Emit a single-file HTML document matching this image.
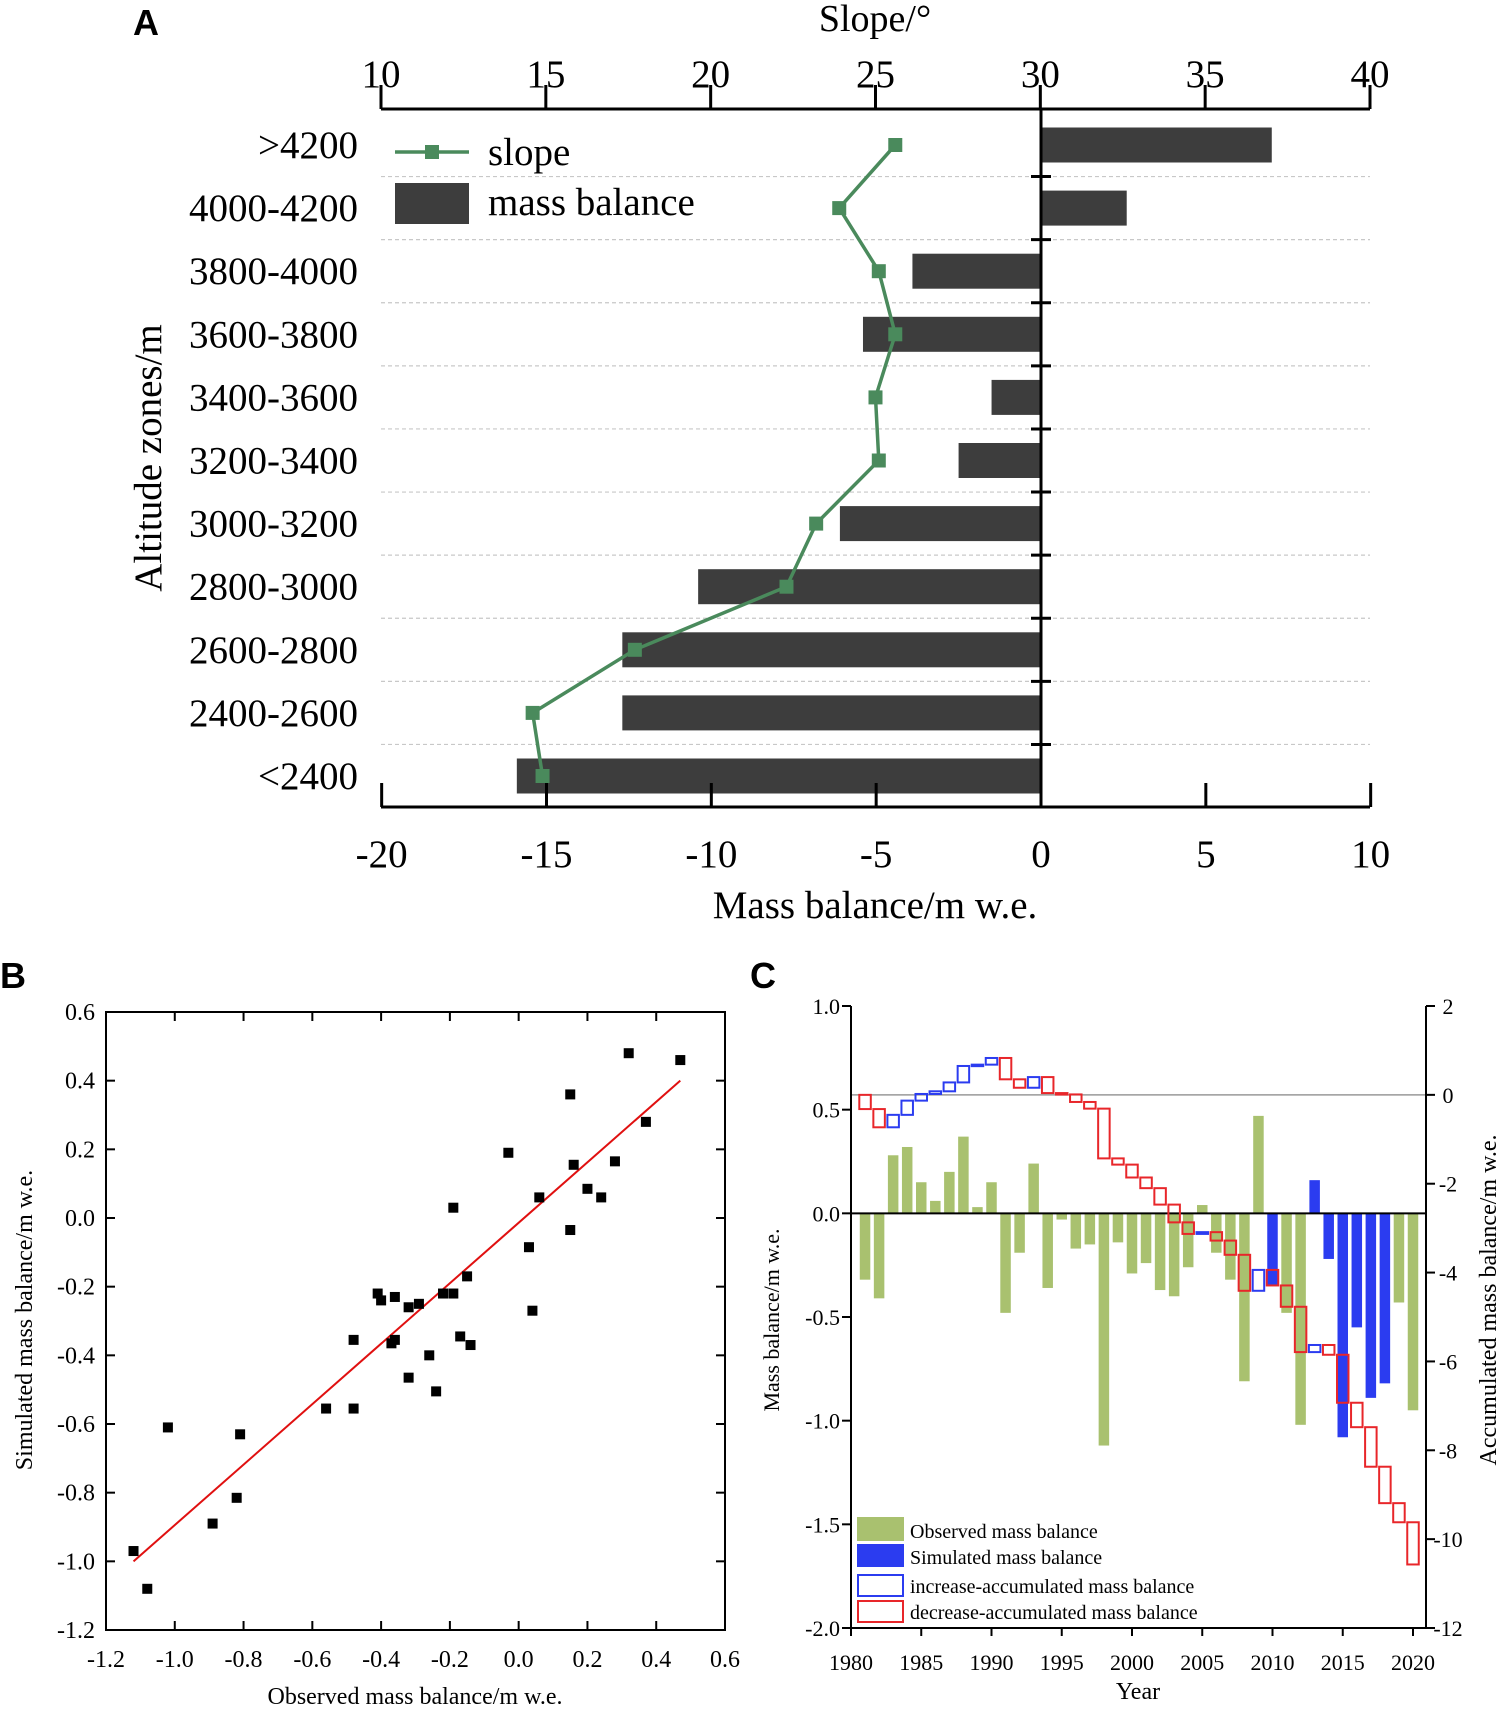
<!DOCTYPE html>
<html><head><meta charset="utf-8"><style>
html,body{margin:0;padding:0;background:#fff;}
svg{display:block;font-family:"Liberation Serif",serif;}
.sans{font-family:"Liberation Sans",sans-serif;font-weight:bold;}
</style></head><body>
<svg id="fig" width="1500" height="1709" viewBox="0 0 1500 1709" xmlns="http://www.w3.org/2000/svg">
<g id="pA"></g>
<g id="pB"></g>
<g id="pC"></g>
</svg>
<script>
// ---------- Panel A data ----------
const zonesA = [">4200","4000-4200","3800-4000","3600-3800","3400-3600","3200-3400","3000-3200","2800-3000","2600-2800","2400-2600","<2400"];
const massBalanceA = [7.0,2.6,-3.9,-5.4,-1.5,-2.5,-6.1,-10.4,-12.7,-12.7,-15.9];
const slopeA = [25.6,23.9,25.1,25.6,25.0,25.1,23.2,22.3,17.7,14.6,14.9];
const slopeTicks = [10,15,20,25,30,35,40];
const mbTicks = [-20,-15,-10,-5,0,5,10];
// ---------- Panel B data ----------
const obsB = [-1.12,-1.08,-1.02,-0.89,-0.82,-0.81,-0.56,-0.48,-0.48,-0.41,-0.40,-0.37,-0.36,-0.36,-0.32,-0.32,-0.29,-0.26,-0.24,-0.22,-0.19,-0.19,-0.17,-0.15,-0.14,-0.03,0.03,0.04,0.06,0.15,0.15,0.16,0.20,0.24,0.28,0.32,0.37,0.47];
const simB = [-0.97,-1.08,-0.61,-0.89,-0.815,-0.63,-0.555,-0.355,-0.555,-0.22,-0.24,-0.365,-0.355,-0.23,-0.26,-0.465,-0.25,-0.40,-0.505,-0.22,-0.22,0.03,-0.345,-0.17,-0.37,0.19,-0.085,-0.27,0.06,0.36,-0.035,0.155,0.085,0.06,0.165,0.48,0.28,0.46];
const fitB = [[-1.12,-1.0],[0.47,0.40]];
const ticksB = [-1.2,-1.0,-0.8,-0.6,-0.4,-0.2,0.0,0.2,0.4,0.6];
// ---------- Panel C data ----------
const yearsC = [1981,1982,1983,1984,1985,1986,1987,1988,1989,1990,1991,1992,1993,1994,1995,1996,1997,1998,1999,2000,2001,2002,2003,2004,2005,2006,2007,2008,2009,2010,2011,2012,2013,2014,2015,2016,2017,2018,2019,2020];
const observedC = [-0.32,-0.41,0.28,0.32,0.15,0.06,0.20,0.37,0.03,0.15,-0.48,-0.19,0.24,-0.36,-0.03,-0.17,-0.15,-1.12,-0.14,-0.29,-0.24,-0.37,-0.40,-0.26,0.04,-0.19,-0.32,-0.81,0.47,null,-0.48,-1.02,null,null,null,null,null,null,-0.43,-0.95];
const simulatedC = [null,null,null,null,null,null,null,null,null,null,null,null,null,null,null,null,null,null,null,null,null,null,null,null,null,null,null,null,null,-0.35,null,null,0.16,-0.22,-1.08,-0.55,-0.89,-0.82,null,null];
const leftTicksC = [1.0,0.5,0.0,-0.5,-1.0,-1.5,-2.0];
const rightTicksC = [2,0,-2,-4,-6,-8,-10,-12];
const yearTicksC = [1980,1985,1990,1995,2000,2005,2010,2015,2020];

const NS="http://www.w3.org/2000/svg";
function mk(parent,tag,attrs,text){const e=document.createElementNS(NS,tag);for(const k in attrs)e.setAttribute(k,attrs[k]);if(text!==undefined)e.textContent=text;parent.appendChild(e);return e;}

// ================= PANEL A =================
(function(){
const g=document.getElementById('pA');
const L=381,R=1370,T=109,B=807,Z=1041;
const mx=v=>Z+v*(R-L)/30;
const sx=s=>L+(s-10)*(R-L)/30;
const rowY=i=>145+i*63.1;
let t=mk(g,'text',{x:133,y:35,'font-size':36,class:'sans'},'A');


t=mk(g,'text',{x:875,y:31,'font-size':38,'text-anchor':'middle'},'Slope/°');


for(let i=0;i<zonesA.length-1;i++){
  const y=(rowY(i)+rowY(i+1))/2;
  const l=mk(g,'line',{x1:L,x2:R,y1:y,y2:y,stroke:'#c8c8c8','stroke-width':1.2,'stroke-dasharray':'4,3'});
  
  
  const tk=mk(g,'line',{x1:Z-10,x2:Z+10,y1:y,y2:y,stroke:'#000','stroke-width':3});
  
  
}
massBalanceA.forEach((v,i)=>{
  const x0=Math.min(mx(0),mx(v)),w=Math.abs(mx(v)-mx(0));
  const r=mk(g,'rect',{x:x0,y:rowY(i)-17.5,width:w,height:35,fill:'#3d3d3d'});
  
  
});
let a=mk(g,'line',{x1:L,x2:R,y1:T,y2:T,stroke:'#000','stroke-width':3});


slopeTicks.forEach(s=>{
  const x=sx(s);
  mk(g,'line',{x1:x,x2:x,y1:T,y2:T-24,stroke:'#000','stroke-width':3});
  const tl=mk(g,'text',{x:x,y:87,'font-size':39,'text-anchor':'middle'},String(s));
  
  
});
a=mk(g,'line',{x1:L,x2:R,y1:B,y2:B,stroke:'#000','stroke-width':3});


mbTicks.forEach(v=>{
  const x=mx(v);
  mk(g,'line',{x1:x,x2:x,y1:B,y2:B-24,stroke:'#000','stroke-width':3});
  const tl=mk(g,'text',{x:x,y:867,'font-size':39,'text-anchor':'middle'},String(v));
  
  
});
t=mk(g,'text',{x:875,y:918,'font-size':39,'text-anchor':'middle'},'Mass balance/m w.e.');


a=mk(g,'line',{x1:Z,x2:Z,y1:T,y2:B,stroke:'#000','stroke-width':3});


zonesA.forEach((z,i)=>{
  const tl=mk(g,'text',{x:358,y:rowY(i)+13,'font-size':39,'text-anchor':'end'},z);
  
  
});
t=mk(g,'text',{x:0,y:0,'font-size':39,'text-anchor':'middle',transform:'translate(161,458) rotate(-90)'},'Altitude zones/m');


const pts=slopeA.map((s,i)=>sx(s)+','+rowY(i)).join(' ');
const pl=mk(g,'polyline',{points:pts,fill:'none',stroke:'#4a8a5c','stroke-width':3.5});


slopeA.forEach((s,i)=>{
  const m=mk(g,'rect',{x:sx(s)-7,y:rowY(i)-7,width:14,height:14,fill:'#4a8a5c'});
  
  
});
const lg=mk(g,'g',{});


mk(lg,'line',{x1:395,x2:469,y1:152,y2:152,stroke:'#4a8a5c','stroke-width':3.5});
mk(lg,'rect',{x:425,y:145,width:14,height:14,fill:'#4a8a5c'});
t=mk(lg,'text',{x:488,y:165,'font-size':39},'slope');


mk(lg,'rect',{x:395,y:183,width:74,height:41,fill:'#3d3d3d'});
t=mk(lg,'text',{x:488,y:215,'font-size':39},'mass balance');


})();

// ================= PANEL B =================
(function(){
const g=document.getElementById('pB');
const L=106,R=725,T=1012,B=1630;
const px=v=>L+(v+1.2)/1.8*(R-L);
const py=v=>T+(0.6-v)/1.8*(B-T);
let t=mk(g,'text',{x:0,y:988,'font-size':36,class:'sans'},'B');


const fr=mk(g,'rect',{x:L,y:T,width:R-L,height:B-T,fill:'none',stroke:'#000','stroke-width':2});


ticksB.forEach(v=>{
  const x=px(v),y=py(v);
  mk(g,'line',{x1:x,x2:x,y1:B,y2:B-9,stroke:'#000','stroke-width':2});
  mk(g,'line',{x1:x,x2:x,y1:T,y2:T+9,stroke:'#000','stroke-width':2});
  mk(g,'line',{x1:L,x2:L+9,y1:y,y2:y,stroke:'#000','stroke-width':2});
  mk(g,'line',{x1:R,x2:R-9,y1:y,y2:y,stroke:'#000','stroke-width':2});
  let tl=mk(g,'text',{x:x,y:1667,'font-size':24,'text-anchor':'middle'},v.toFixed(1));
  
  
  tl=mk(g,'text',{x:95,y:y+8,'font-size':24,'text-anchor':'end'},v.toFixed(1));
  
  
});
t=mk(g,'text',{x:415,y:1704,'font-size':24,'text-anchor':'middle'},'Observed mass balance/m w.e.');


t=mk(g,'text',{x:0,y:0,'font-size':24,'text-anchor':'middle',transform:'translate(32,1320) rotate(-90)'},'Simulated mass balance/m w.e.');


const ln=mk(g,'line',{x1:px(fitB[0][0]),y1:py(fitB[0][1]),x2:px(fitB[1][0]),y2:py(fitB[1][1]),stroke:'#e01010','stroke-width':2});


obsB.forEach((o,i)=>{
  const p=mk(g,'rect',{x:px(o)-5,y:py(simB[i])-5,width:10,height:10,fill:'#000'});
  
  
});
})();

// ================= PANEL C =================
(function(){
const g=document.getElementById('pC');
const L=851,R=1426,T=1006,B=1628;
const cx=y=>L+(y-1980)*(1413-851)/40;
const ly=v=>T+(1-v)/3*(B-T);
const ry=v=>T+(2-v)/14*(B-T);
const bw=10.5, boxw=11.5;
let t=mk(g,'text',{x:750,y:988,'font-size':36,class:'sans'},'C');


let a=mk(g,'line',{x1:L,x2:R,y1:ry(0),y2:ry(0),stroke:'#999','stroke-width':1.5});


yearsC.forEach((yr,i)=>{
  const o=observedC[i];
  if(o!==null){
    const r=mk(g,'rect',{x:cx(yr)-bw/2,y:Math.min(ly(0),ly(o)),width:bw,height:Math.abs(ly(o)-ly(0)),fill:'#a9c16f'});
    
    
  }
  const s=simulatedC[i];
  if(s!==null){
    const r=mk(g,'rect',{x:cx(yr)-bw/2,y:Math.min(ly(0),ly(s)),width:bw,height:Math.abs(ly(s)-ly(0)),fill:'#2b3cf0'});
    
    
  }
});
a=mk(g,'line',{x1:L,x2:R,y1:ly(0),y2:ly(0),stroke:'#000','stroke-width':2});


let cum=0;
yearsC.forEach((yr,i)=>{
  const v=observedC[i]!==null?observedC[i]:simulatedC[i];
  const prev=cum; cum+=v;
  const y1=ry(Math.max(prev,cum)), y2=ry(Math.min(prev,cum));
  const b=mk(g,'rect',{x:cx(yr)-boxw/2,y:y1,width:boxw,height:Math.max(y2-y1,1.5),fill:'none',stroke:v>=0?'#2b3cf0':'#e8262a','stroke-width':2});
  
  
});
a=mk(g,'line',{x1:L,x2:L,y1:T,y2:B,stroke:'#000','stroke-width':2});


a=mk(g,'line',{x1:R,x2:R,y1:T,y2:B,stroke:'#000','stroke-width':2});


a=mk(g,'line',{x1:L,x2:R,y1:B,y2:B,stroke:'#000','stroke-width':2});


leftTicksC.forEach(v=>{
  const y=ly(v);
  mk(g,'line',{x1:L,x2:L-9,y1:y,y2:y,stroke:'#000','stroke-width':2});
  const tl=mk(g,'text',{x:840,y:y+8,'font-size':22,'text-anchor':'end'},v.toFixed(1));
  
  
});
rightTicksC.forEach(v=>{
  const y=ry(v);
  mk(g,'line',{x1:R,x2:R+9,y1:y,y2:y,stroke:'#000','stroke-width':2});
  const tl=mk(g,'text',{x:1448,y:y+8,'font-size':22,'text-anchor':'middle'},String(v));
  
  
});
yearTicksC.forEach(yr=>{
  const x=cx(yr);
  mk(g,'line',{x1:x,x2:x,y1:B,y2:B+8,stroke:'#000','stroke-width':2});
  const tl=mk(g,'text',{x:x,y:1670,'font-size':22,'text-anchor':'middle'},String(yr));
  
  
});
t=mk(g,'text',{x:1138,y:1699,'font-size':24,'text-anchor':'middle'},'Year');


t=mk(g,'text',{x:0,y:0,'font-size':22,'text-anchor':'middle',transform:'translate(779,1320) rotate(-90)'},'Mass balance/m w.e.');


t=mk(g,'text',{x:0,y:0,'font-size':24,'text-anchor':'middle',transform:'translate(1496,1300) rotate(-90)'},'Accumulated mass balance/m w.e.');


const lg=mk(g,'g',{});


mk(lg,'rect',{x:857,y:1517,width:47,height:24,fill:'#a9c16f'});
mk(lg,'rect',{x:857,y:1544,width:47,height:23,fill:'#2b3cf0'});
mk(lg,'rect',{x:858,y:1575,width:45,height:21,fill:'none',stroke:'#2b3cf0','stroke-width':2});
mk(lg,'rect',{x:858,y:1601,width:45,height:21,fill:'none',stroke:'#e8262a','stroke-width':2});
const labs=['Observed mass balance','Simulated mass balance','increase-accumulated mass balance','decrease-accumulated mass balance'];
const ys=[1538,1564,1593,1619];
const nm=['legend-observed','legend-simulated','legend-increase','legend-decrease'];
labs.forEach((s,i)=>{
  const tl=mk(lg,'text',{x:910,y:ys[i],'font-size':20},s);
  
  
});
})();
</script>
</body></html>
